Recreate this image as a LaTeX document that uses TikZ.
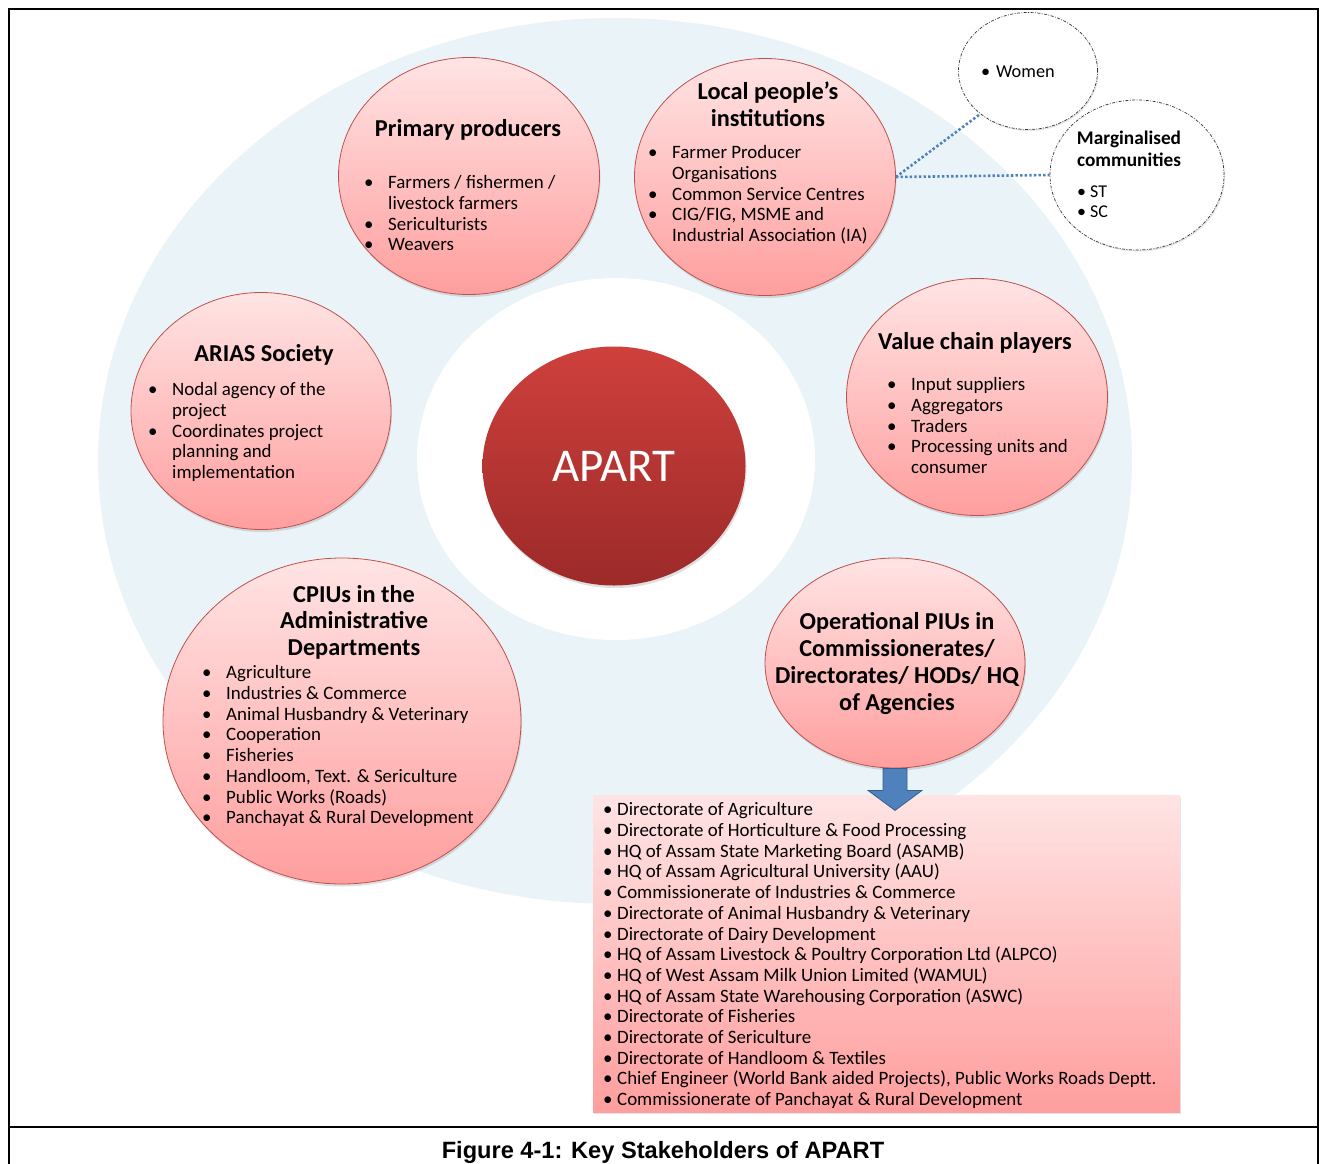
\documentclass[tikz,border=0pt]{standalone}
\usepackage{fontspec}
\setmainfont{Carlito}
\newfontfamily\capfont{Liberation Sans}
\usetikzlibrary{shapes.geometric,shadows,calc}
\definecolor{bgblue}{RGB}{234,244,248}
\definecolor{cborder}{RGB}{192,80,77}
\definecolor{ctop}{RGB}{255,228,228}
\definecolor{cbot}{RGB}{255,158,158}
\definecolor{atop}{RGB}{206,64,60}
\definecolor{abot}{RGB}{156,42,41}
\definecolor{ablue}{RGB}{79,129,189}
\definecolor{ablued}{RGB}{56,93,138}
\newcommand\bitem[1]{\makebox[24pt][l]{\textbullet}#1}
\newcommand\bcont[1]{\hspace*{24pt}#1}
\newcommand\sitem[1]{\makebox[14pt][l]{\textbullet}#1}
\begin{document}
\begin{tikzpicture}[x=1pt,y=-1pt,
  bub/.style={ellipse, draw=cborder, line width=0.8pt, top color=ctop, bottom color=cbot,
    inner sep=0pt, drop shadow={opacity=0.25, shadow xshift=1pt, shadow yshift=-2.5pt}},
  cloud/.style={ellipse, draw=black!80, fill=white, line width=0.7pt,
    dash pattern=on 3pt off 1.5pt on 0.8pt off 1.5pt, inner sep=0pt,
    drop shadow={opacity=0.2, shadow xshift=1pt, shadow yshift=-1.5pt}},
  ttl/.style={font=\fontsize{24.3}{26.5}\selectfont\bfseries, align=center, inner sep=0pt, anchor=center},
  body/.style={font=\fontsize{18.9}{20.7}\selectfont, align=left, inner sep=0pt, anchor=north west},
  dots/.style={draw=ablue, line width=2.6pt, dash pattern=on 2.4pt off 2.2pt}
]
\useasboundingbox (0,0) rectangle (1322,1164);
\fill[white] (0,0) rectangle (1322,1164);
% frame
\draw[line width=2.2pt] (9,1166) -- (9,9) -- (1318,9) -- (1318,1166);
\draw[line width=2.2pt] (9,1127) -- (1318,1127);
% background rings
\fill[bgblue] (615,461) ellipse [x radius=517, y radius=443];
\fill[white] (616,459) ellipse [x radius=199, y radius=181];
% centre
\node[ellipse, inner sep=0pt, minimum width=263pt, minimum height=239pt, top color=atop, bottom color=abot,
  drop shadow={opacity=0.25, shadow xshift=1pt, shadow yshift=-2.5pt},
  font=\fontsize{47}{47}\selectfont, text=white] (apart) at (614,466) {APART};
% bubbles
\node[bub, minimum width=261pt, minimum height=237pt] (pp) at (469,176) {};
\node[bub, minimum width=261pt, minimum height=237pt] (lpi) at (765,177) {};
\node[bub, minimum width=260pt, minimum height=237pt] (arias) at (261,411) {};
\node[bub, minimum width=261pt, minimum height=237pt] (vcp) at (977,397) {};
\node[bub, minimum width=358pt, minimum height=326pt] (cpiu) at (342,721) {};
\node[bub, minimum width=260pt, minimum height=210pt] (opiu) at (895,663) {};
% bubble texts
\node[ttl] (ppt) at (468,129.5) {Primary producers};
\node[body] (ppb) at (364,175.5) {\bitem{Farmers / fishermen /}\\ \bcont{livestock farmers}\\ \bitem{Sericulturists}\\ \bitem{Weavers}};
\node[ttl] (lpit) at (768,104) {Local people’s\\institutions};
\node[body] (lpib) at (648,145.5) {\bitem{Farmer Producer}\\ \bcont{Organisations}\\ \bitem{Common Service Centres}\\ \bitem{CIG/FIG, MSME and}\\ \bcont{Industrial Association (IA)}};
\node[ttl] (ariast) at (264,354.5) {ARIAS Society};
\node[body] (ariasb) at (148,382.5) {\bitem{Nodal agency of the}\\ \bcont{project}\\ \bitem{Coordinates project}\\ \bcont{planning and}\\ \bcont{implementation}};
\node[ttl] (vcpt) at (975,342.5) {Value chain players};
\node[body] (vcpb) at (887,377.5) {\bitem{Input suppliers}\\ \bitem{Aggregators}\\ \bitem{Traders}\\ \bitem{Processing units and}\\ \bcont{consumer}};
\node[ttl] (cpiut) at (354,622) {CPIUs in the\\Administrative\\Departments};
\node[body] (cpiub) at (202,665.5) {\bitem{Agriculture}\\ \bitem{Industries \& Commerce}\\ \bitem{Animal Husbandry \& Veterinary}\\ \bitem{Cooperation}\\ \bitem{Fisheries}\\ \bitem{Handloom, Text. \& Sericulture}\\ \bitem{Public Works (Roads)}\\ \bitem{Panchayat \& Rural Development}};
\node[ttl, font=\fontsize{24.3}{27}\selectfont\bfseries] (opiut) at (897,664) {Operational PIUs in\\Commissionerates/\\Directorates/ HODs/ HQ\\of Agencies};
% side clouds
\node[cloud, minimum width=139pt, minimum height=117pt] (women) at (1028,71) {};
\node[cloud, minimum width=174pt, minimum height=150pt] (marg) at (1137,175) {};
\node[font=\fontsize{18.3}{20}\selectfont, inner sep=0pt, anchor=west] (womt) at (981,72) {\makebox[15pt][l]{\textbullet}Women};
\node[ttl, font=\fontsize{19.3}{22}\selectfont\bfseries] (margt) at (1129,149) {Marginalised\\communities};
\node[body, font=\fontsize{18}{20}\selectfont] (margb) at (1077,186) {\makebox[13pt][l]{\textbullet}ST\\ \makebox[13pt][l]{\textbullet}SC};
% dotted links
\draw[dots] (lpi.east) -- (women.222);
\draw[dots] (lpi.east) -- (marg.west);
% list box
\node[rectangle, inner sep=0pt, minimum width=587pt, minimum height=317pt, top color=ctop, bottom color=cbot,
  drop shadow={opacity=0.2, shadow xshift=1pt, shadow yshift=-1.5pt}] (list) at (886.5,953.5) {};
\node[body] (listt) at (603,802.5) {\sitem{Directorate of Agriculture}\\
\sitem{Directorate of Horticulture \& Food Processing}\\
\sitem{HQ of Assam State Marketing Board (ASAMB)}\\
\sitem{HQ of Assam Agricultural University (AAU)}\\
\sitem{Commissionerate of Industries \& Commerce}\\
\sitem{Directorate of Animal Husbandry \& Veterinary}\\
\sitem{Directorate of Dairy Development}\\
\sitem{HQ of Assam Livestock \& Poultry Corporation Ltd (ALPCO)}\\
\sitem{HQ of West Assam Milk Union Limited (WAMUL)}\\
\sitem{HQ of Assam State Warehousing Corporation (ASWC)}\\
\sitem{Directorate of Fisheries}\\
\sitem{Directorate of Sericulture}\\
\sitem{Directorate of Handloom \& Textiles}\\
\sitem{Chief Engineer (World Bank aided Projects), Public Works Roads Deptt.}\\
\sitem{Commissionerate of Panchayat \& Rural Development}};
% arrow
\coordinate (atop) at (opiu.south);
\filldraw[fill=ablue, draw=ablued, line width=0.8pt]
  ($(atop)+(-12,0)$) -- ($(atop)+(12,0)$) -- ($(atop)+(12,22)$) -- ($(atop)+(27,22)$)
  -- ($(atop)+(0,42)$) -- ($(atop)+(-27,22)$) -- ($(atop)+(-12,22)$) -- cycle;
% caption
\node[font=\capfont\bfseries\fontsize{23.6}{24}\selectfont, inner sep=0pt] (cap) at (663,1152) {Figure 4-1: Key Stakeholders of APART};
\end{tikzpicture}
\end{document}
